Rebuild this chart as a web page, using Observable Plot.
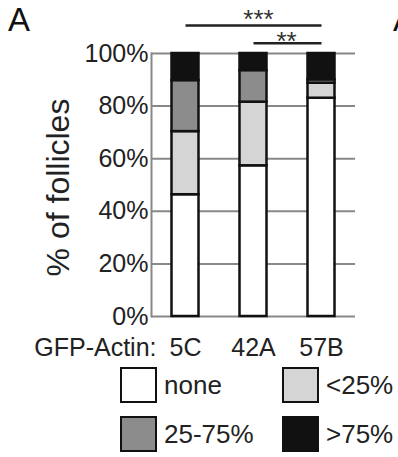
<!DOCTYPE html>
<html>
<head>
<meta charset="utf-8">
<script src="https://cdn.jsdelivr.net/npm/d3@7"></script>
<script src="https://cdn.jsdelivr.net/npm/@observablehq/plot@0.6"></script>
<style>
  html, body { margin: 0; padding: 0; background: #fff; }
  #wrap { position: relative; width: 398px; height: 457px; overflow: hidden;
          font-family: "Liberation Sans", Arial, sans-serif; color: #222; }
  .panel { position: absolute; font-size: 33px; line-height: 33px; color: #111; }
  #chart { position: absolute; left: 0; top: 0; }
  #legend { position: absolute; left: 120px; top: 367px; display: grid;
            grid-template-columns: 162px 162px; row-gap: 13px; }
  .item { display: flex; align-items: center; height: 36px; font-size: 26px; }
  .sw { width: 37px; height: 36px; box-sizing: border-box; border: 2.5px solid #111; margin-right: 7px; }
</style>
</head>
<body>
<div id="wrap">
  <div class="panel" style="left:8px; top:3px;">A</div>
  <div class="panel" style="left:393px; top:3px;">A</div>
  <div id="chart"></div>
  <div id="legend"></div>
</div>
<script>
// ---- data ----
const genotypes = ["5C", "42A", "57B"];
const categories = ["none", "<25%", "25-75%", ">75%"];
const colors = ["#ffffff", "#d5d5d5", "#8c8c8c", "#111111"];
const noneVals = [46.3, 57.3, 83.0];
const lt25Vals = [24.0, 24.2, 5.7];
const midVals = [19.4, 12.0, 1.3];
const gt75Vals = [10.3, 6.5, 10.0];
const yTicks = [0, 20, 40, 60, 80, 100];
const xPrefix = "GFP-Actin:";
const yLabel = "% of follicles";
const comparisons = [
  {from: "5C", to: "57B", label: "***"},
  {from: "42A", to: "57B", label: "**"}
];

const series = [noneVals, lt25Vals, midVals, gt75Vals];
const rows = [];
genotypes.forEach((g, i) => {
  categories.forEach((c, j) => rows.push({genotype: g, category: c, value: series[j][i]}));
});

// significance bar levels (above the 100% line)
const levels = [110.6, 103.9];
const sig = comparisons.map((d, i) => ({...d, level: levels[i]}));

const chart = Plot.plot({
  width: 398,
  height: 362,
  marginLeft: 151,
  marginRight: 43,
  marginTop: 53,
  marginBottom: 46,
  style: {fontFamily: "Liberation Sans, Arial, sans-serif", fontSize: "25px", color: "#222", background: "transparent", overflow: "visible"},
  x: {domain: genotypes, padding: 0},
  y: {domain: [0, 100]},
  color: {domain: categories, range: colors},
  marks: [
    Plot.ruleY(yTicks, {stroke: "#888", strokeWidth: 2}),
    Plot.frame({anchor: "left", stroke: "#888", strokeWidth: 2}),
    Plot.barY(rows, {x: "genotype", y: "value", fill: "category", stroke: "#111", strokeWidth: 2.5,
                     insetLeft: 20.5, insetRight: 20.5, order: categories}),
    Plot.axisY({ticks: yTicks, tickFormat: d => d + "%", tickSize: 0, tickPadding: 3, label: null, fontSize: 25}),
    Plot.axisX({tickSize: 0, tickPadding: 22, label: null, fontSize: 25}),
    Plot.text([xPrefix], {x: () => genotypes[0], y: () => 0, text: d => d, textAnchor: "end",
                          lineAnchor: "top", dx: -29, dy: 22, fontSize: 25}),
    Plot.text([yLabel], {frameAnchor: "left", text: d => d, rotate: -90, textAnchor: "middle",
                         dx: -93, dy: 2.5, fontSize: 32}),
    Plot.link(sig, {x1: "from", x2: "to", y1: "level", y2: "level", stroke: "#222", strokeWidth: 2.5}),
    Plot.text(sig.slice(0, 1), {x: () => genotypes[1], y: "level", text: "label", dx: 5, dy: -5.5, fontSize: 26, fill: "#333"}),
    Plot.text(sig.slice(1, 2), {x: () => genotypes[2], y: "level", text: "label", dx: -35, dy: -1.7, fontSize: 26, fill: "#333"})
  ]
});
document.getElementById("chart").appendChild(chart);

// legend
const legend = document.getElementById("legend");
categories.forEach((c, i) => {
  const item = document.createElement("div");
  item.className = "item";
  const sw = document.createElement("div");
  sw.className = "sw";
  sw.style.background = colors[i];
  const t = document.createElement("span");
  t.textContent = c;
  item.appendChild(sw);
  item.appendChild(t);
  legend.appendChild(item);
});
</script>
</body>
</html>
